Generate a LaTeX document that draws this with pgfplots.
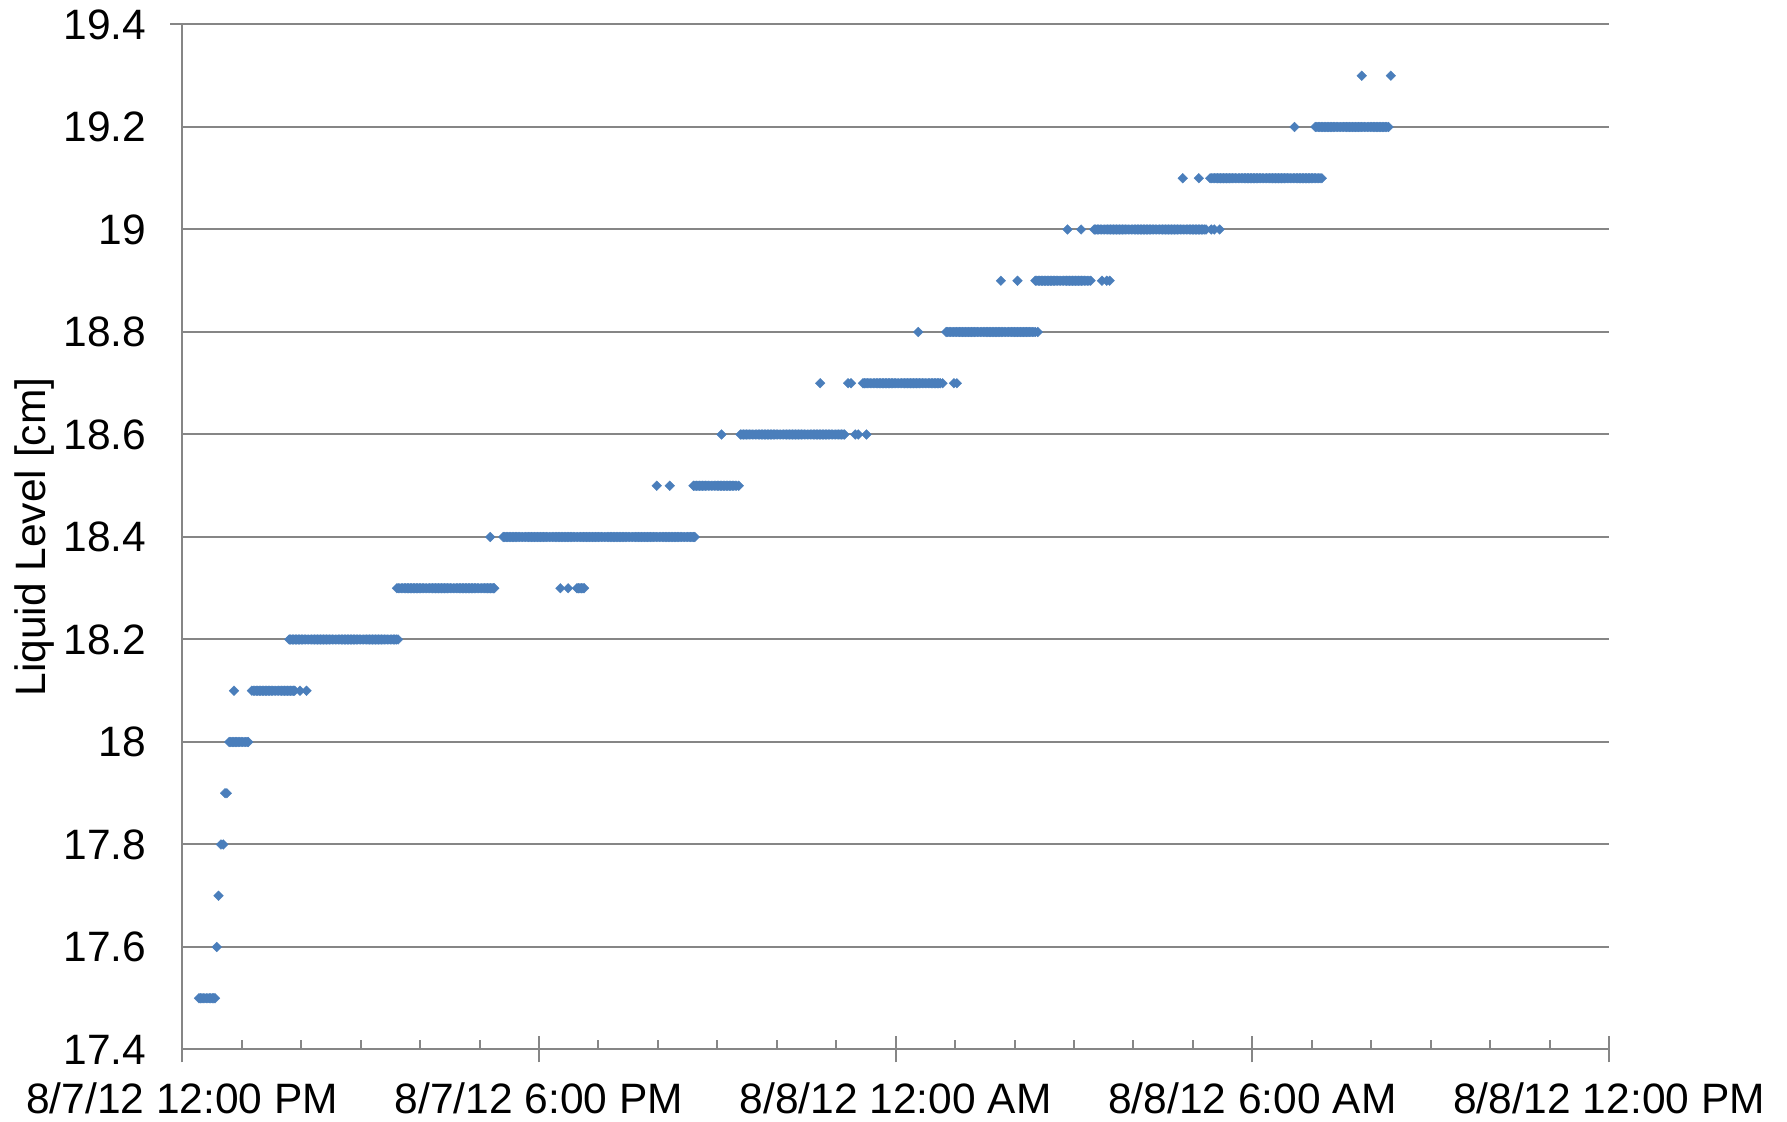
\documentclass[border=0pt]{standalone}
\usepackage{pgfplots}
\pgfplotsset{compat=1.18}
\usepackage{fontspec}
\setmainfont{Liberation Sans}

\definecolor{gridgray}{RGB}{134,134,134}
\definecolor{levelblue}{RGB}{74,126,187}

\begin{document}
\begin{tikzpicture}
\begin{axis}[
  scale only axis,
  width=713.35pt, height=512.5pt,
  xmin=0, xmax=24,
  ymin=17.4, ymax=19.4,
  axis x line*=bottom,
  axis y line*=left,
  axis line style={gridgray, line width=1pt},
  xtick={0,6,12,18,24},
  xticklabels={8/7/12 12:00 PM, 8/7/12 6:00 PM, 8/8/12 12:00 AM, 8/8/12 6:00 AM, 8/8/12 12:00 PM},
  minor x tick num=5,
  ytick={17.4,17.6,17.8,18,18.2,18.4,18.6,18.8,19,19.2,19.4},
  tick align=center,
  major tick length=13pt,
  minor tick length=4.5pt,
  major x tick style={gridgray, line width=1pt},
  minor x tick style={gridgray, line width=1pt, yshift=2.25pt},
  major y tick style={draw=none},
  ymajorgrids,
  major y grid style={gridgray, line width=1pt, shorten <=-6pt},
  /pgf/number format/assume math mode=true,
  tick label style={font=\fontsize{21.25}{25}\selectfont, text=black},
  yticklabel style={anchor=east, xshift=-8pt},
  xticklabel style={anchor=north, yshift=-6.5pt},
  every axis y label/.style={at={(axis description cs:-0.1037,0.5)}, rotate=90, anchor=center},
  ylabel={Liquid Level [cm]},
  label style={font=\fontsize{21.25}{25}\selectfont},
]
% logged level readings: hours after 8/7/12 12:00 PM vs level in cm
\addplot[only marks, mark=square*, mark size=1.7pt,
  mark options={rotate=45, fill=levelblue, draw=levelblue, line width=0.2pt}]
coordinates {
(0.28,17.5) (0.305,17.5) (0.33,17.5) (0.355,17.5) (0.38,17.5) (0.405,17.5) (0.43,17.5) (0.455,17.5)
(0.48,17.5) (0.505,17.5) (0.53,17.5) (0.55,17.5)
(0.58,17.6) (0.61,17.7) (0.65,17.8) (0.69,17.8) (0.72,17.9) (0.75,17.9)
(0.79,18.0) (0.815,18.0) (0.84,18.0) (0.865,18.0) (0.89,18.0) (0.915,18.0) (0.94,18.0) (0.965,18.0)
(0.99,18.0) (1.015,18.0) (1.04,18.0) (1.065,18.0) (1.09,18.0) (1.11,18.0)
(0.87,18.1) (1.17,18.1) (1.195,18.1) (1.22,18.1) (1.245,18.1) (1.27,18.1) (1.295,18.1) (1.32,18.1)
(1.345,18.1) (1.37,18.1) (1.395,18.1) (1.42,18.1) (1.445,18.1) (1.47,18.1) (1.495,18.1) (1.52,18.1)
(1.545,18.1) (1.57,18.1) (1.595,18.1) (1.62,18.1) (1.645,18.1) (1.67,18.1) (1.695,18.1) (1.72,18.1)
(1.745,18.1) (1.77,18.1) (1.795,18.1) (1.82,18.1) (1.845,18.1) (1.87,18.1) (1.89,18.1) (1.98,18.1)
(2.09,18.1)
(1.8,18.2) (1.825,18.2) (1.85,18.2) (1.875,18.2) (1.9,18.2) (1.925,18.2) (1.95,18.2) (1.975,18.2)
(2,18.2) (2.025,18.2) (2.05,18.2) (2.075,18.2) (2.1,18.2) (2.125,18.2) (2.15,18.2) (2.175,18.2)
(2.2,18.2) (2.225,18.2) (2.25,18.2) (2.275,18.2) (2.3,18.2) (2.325,18.2) (2.35,18.2) (2.375,18.2)
(2.4,18.2) (2.425,18.2) (2.45,18.2) (2.475,18.2) (2.5,18.2) (2.525,18.2) (2.55,18.2) (2.575,18.2)
(2.6,18.2) (2.625,18.2) (2.65,18.2) (2.675,18.2) (2.7,18.2) (2.725,18.2) (2.75,18.2) (2.775,18.2)
(2.8,18.2) (2.825,18.2) (2.85,18.2) (2.875,18.2) (2.9,18.2) (2.925,18.2) (2.95,18.2) (2.975,18.2)
(3,18.2) (3.025,18.2) (3.05,18.2) (3.075,18.2) (3.1,18.2) (3.125,18.2) (3.15,18.2) (3.175,18.2)
(3.2,18.2) (3.225,18.2) (3.25,18.2) (3.275,18.2) (3.3,18.2) (3.325,18.2) (3.35,18.2) (3.375,18.2)
(3.4,18.2) (3.425,18.2) (3.45,18.2) (3.475,18.2) (3.5,18.2) (3.525,18.2) (3.55,18.2) (3.575,18.2)
(3.6,18.2) (3.63,18.2)
(3.61,18.3) (3.635,18.3) (3.66,18.3) (3.685,18.3) (3.71,18.3) (3.735,18.3) (3.76,18.3) (3.785,18.3)
(3.81,18.3) (3.835,18.3) (3.86,18.3) (3.885,18.3) (3.91,18.3) (3.935,18.3) (3.96,18.3) (3.985,18.3)
(4.01,18.3) (4.035,18.3) (4.06,18.3) (4.085,18.3) (4.11,18.3) (4.135,18.3) (4.16,18.3) (4.185,18.3)
(4.21,18.3) (4.235,18.3) (4.26,18.3) (4.285,18.3) (4.31,18.3) (4.335,18.3) (4.36,18.3) (4.385,18.3)
(4.41,18.3) (4.435,18.3) (4.46,18.3) (4.485,18.3) (4.51,18.3) (4.535,18.3) (4.56,18.3) (4.585,18.3)
(4.61,18.3) (4.635,18.3) (4.66,18.3) (4.685,18.3) (4.71,18.3) (4.735,18.3) (4.76,18.3) (4.785,18.3)
(4.81,18.3) (4.835,18.3) (4.86,18.3) (4.885,18.3) (4.91,18.3) (4.935,18.3) (4.96,18.3) (4.985,18.3)
(5.01,18.3) (5.035,18.3) (5.06,18.3) (5.085,18.3) (5.11,18.3) (5.135,18.3) (5.16,18.3) (5.185,18.3)
(5.21,18.3) (5.235,18.3) (5.25,18.3)
(6.36,18.3) (6.49,18.3) (6.64,18.3) (6.665,18.3) (6.69,18.3) (6.715,18.3) (6.74,18.3) (6.76,18.3)
(5.18,18.4)
(5.4,18.4) (5.425,18.4) (5.45,18.4) (5.475,18.4) (5.5,18.4) (5.525,18.4) (5.55,18.4) (5.575,18.4)
(5.6,18.4) (5.625,18.4) (5.65,18.4) (5.675,18.4) (5.7,18.4) (5.725,18.4) (5.75,18.4) (5.775,18.4)
(5.8,18.4) (5.825,18.4) (5.85,18.4) (5.875,18.4) (5.9,18.4) (5.925,18.4) (5.95,18.4) (5.975,18.4)
(6,18.4) (6.025,18.4) (6.05,18.4) (6.075,18.4) (6.1,18.4) (6.125,18.4) (6.15,18.4) (6.175,18.4)
(6.2,18.4) (6.225,18.4) (6.25,18.4) (6.275,18.4) (6.3,18.4) (6.325,18.4) (6.35,18.4) (6.375,18.4)
(6.4,18.4) (6.425,18.4) (6.45,18.4) (6.475,18.4) (6.5,18.4) (6.525,18.4) (6.55,18.4) (6.575,18.4)
(6.6,18.4) (6.625,18.4) (6.65,18.4) (6.675,18.4) (6.7,18.4) (6.725,18.4) (6.75,18.4) (6.775,18.4)
(6.8,18.4) (6.825,18.4) (6.85,18.4) (6.875,18.4) (6.9,18.4) (6.925,18.4) (6.95,18.4) (6.975,18.4)
(7,18.4) (7.025,18.4) (7.05,18.4) (7.075,18.4) (7.1,18.4) (7.125,18.4) (7.15,18.4) (7.175,18.4)
(7.2,18.4) (7.225,18.4) (7.25,18.4) (7.275,18.4) (7.3,18.4) (7.325,18.4) (7.35,18.4) (7.375,18.4)
(7.4,18.4) (7.425,18.4) (7.45,18.4) (7.475,18.4) (7.5,18.4) (7.525,18.4) (7.55,18.4) (7.575,18.4)
(7.6,18.4) (7.625,18.4) (7.65,18.4) (7.675,18.4) (7.7,18.4) (7.725,18.4) (7.75,18.4) (7.775,18.4)
(7.8,18.4) (7.825,18.4) (7.85,18.4) (7.875,18.4) (7.9,18.4) (7.925,18.4) (7.95,18.4) (7.975,18.4)
(8,18.4) (8.025,18.4) (8.05,18.4) (8.075,18.4) (8.1,18.4) (8.125,18.4) (8.15,18.4) (8.175,18.4)
(8.2,18.4) (8.225,18.4) (8.25,18.4) (8.275,18.4) (8.3,18.4) (8.325,18.4) (8.35,18.4) (8.375,18.4)
(8.4,18.4) (8.425,18.4) (8.45,18.4) (8.475,18.4) (8.5,18.4) (8.525,18.4) (8.55,18.4) (8.575,18.4)
(8.6,18.4) (8.62,18.4)
(7.98,18.5) (8.2,18.5)
(8.6,18.5) (8.625,18.5) (8.65,18.5) (8.675,18.5) (8.7,18.5) (8.725,18.5) (8.75,18.5) (8.775,18.5)
(8.8,18.5) (8.825,18.5) (8.85,18.5) (8.875,18.5) (8.9,18.5) (8.925,18.5) (8.95,18.5) (8.975,18.5)
(9,18.5) (9.025,18.5) (9.05,18.5) (9.075,18.5) (9.1,18.5) (9.125,18.5) (9.15,18.5) (9.175,18.5)
(9.2,18.5) (9.225,18.5) (9.25,18.5) (9.275,18.5) (9.3,18.5) (9.325,18.5) (9.36,18.5)
(9.07,18.6)
(9.39,18.6) (9.415,18.6) (9.44,18.6) (9.465,18.6) (9.49,18.6) (9.515,18.6) (9.54,18.6) (9.565,18.6)
(9.59,18.6) (9.615,18.6) (9.64,18.6) (9.665,18.6) (9.69,18.6) (9.715,18.6) (9.74,18.6) (9.765,18.6)
(9.79,18.6) (9.815,18.6) (9.84,18.6) (9.865,18.6) (9.89,18.6) (9.915,18.6) (9.94,18.6) (9.965,18.6)
(9.99,18.6) (10.015,18.6) (10.04,18.6) (10.065,18.6) (10.09,18.6) (10.115,18.6) (10.14,18.6) (10.165,18.6)
(10.19,18.6) (10.215,18.6) (10.24,18.6) (10.265,18.6) (10.29,18.6) (10.315,18.6) (10.34,18.6) (10.365,18.6)
(10.39,18.6) (10.415,18.6) (10.44,18.6) (10.465,18.6) (10.49,18.6) (10.515,18.6) (10.54,18.6) (10.565,18.6)
(10.59,18.6) (10.615,18.6) (10.64,18.6) (10.665,18.6) (10.69,18.6) (10.715,18.6) (10.74,18.6) (10.765,18.6)
(10.79,18.6) (10.815,18.6) (10.84,18.6) (10.865,18.6) (10.89,18.6) (10.915,18.6) (10.94,18.6) (10.965,18.6)
(10.99,18.6) (11.015,18.6) (11.04,18.6) (11.065,18.6) (11.09,18.6) (11.115,18.6) (11.14,18.6)
(11.32,18.6) (11.37,18.6) (11.51,18.6)
(10.73,18.7) (11.2,18.7) (11.25,18.7)
(11.45,18.7) (11.475,18.7) (11.5,18.7) (11.525,18.7) (11.55,18.7) (11.575,18.7) (11.6,18.7) (11.625,18.7)
(11.65,18.7) (11.675,18.7) (11.7,18.7) (11.725,18.7) (11.75,18.7) (11.775,18.7) (11.8,18.7) (11.825,18.7)
(11.85,18.7) (11.875,18.7) (11.9,18.7) (11.925,18.7) (11.95,18.7) (11.975,18.7) (12,18.7) (12.025,18.7)
(12.05,18.7) (12.075,18.7) (12.1,18.7) (12.125,18.7) (12.15,18.7) (12.175,18.7) (12.2,18.7) (12.225,18.7)
(12.25,18.7) (12.275,18.7) (12.3,18.7) (12.325,18.7) (12.35,18.7) (12.375,18.7) (12.4,18.7) (12.425,18.7)
(12.45,18.7) (12.475,18.7) (12.5,18.7) (12.525,18.7) (12.55,18.7) (12.575,18.7) (12.6,18.7) (12.625,18.7)
(12.65,18.7) (12.675,18.7) (12.7,18.7) (12.725,18.7) (12.75,18.7) (12.79,18.7)
(12.98,18.7) (13.03,18.7)
(12.38,18.8)
(12.85,18.8) (12.875,18.8) (12.9,18.8) (12.925,18.8) (12.95,18.8) (12.975,18.8) (13,18.8) (13.025,18.8)
(13.05,18.8) (13.075,18.8) (13.1,18.8) (13.125,18.8) (13.15,18.8) (13.175,18.8) (13.2,18.8) (13.225,18.8)
(13.25,18.8) (13.275,18.8) (13.3,18.8) (13.325,18.8) (13.35,18.8) (13.375,18.8) (13.4,18.8) (13.425,18.8)
(13.45,18.8) (13.475,18.8) (13.5,18.8) (13.525,18.8) (13.55,18.8) (13.575,18.8) (13.6,18.8) (13.625,18.8)
(13.65,18.8) (13.675,18.8) (13.7,18.8) (13.725,18.8) (13.75,18.8) (13.775,18.8) (13.8,18.8) (13.825,18.8)
(13.85,18.8) (13.875,18.8) (13.9,18.8) (13.925,18.8) (13.95,18.8) (13.975,18.8) (14,18.8) (14.025,18.8)
(14.05,18.8) (14.075,18.8) (14.1,18.8) (14.125,18.8) (14.15,18.8) (14.175,18.8) (14.2,18.8) (14.225,18.8)
(14.25,18.8) (14.275,18.8) (14.3,18.8) (14.325,18.8) (14.35,18.8) (14.39,18.8)
(13.77,18.9) (14.05,18.9)
(14.35,18.9) (14.375,18.9) (14.4,18.9) (14.425,18.9) (14.45,18.9) (14.475,18.9) (14.5,18.9) (14.525,18.9)
(14.55,18.9) (14.575,18.9) (14.6,18.9) (14.625,18.9) (14.65,18.9) (14.675,18.9) (14.7,18.9) (14.725,18.9)
(14.75,18.9) (14.775,18.9) (14.8,18.9) (14.825,18.9) (14.85,18.9) (14.875,18.9) (14.9,18.9) (14.925,18.9)
(14.95,18.9) (14.975,18.9) (15,18.9) (15.025,18.9) (15.05,18.9) (15.075,18.9) (15.1,18.9) (15.125,18.9)
(15.15,18.9) (15.175,18.9) (15.2,18.9) (15.225,18.9) (15.25,18.9) (15.28,18.9)
(15.47,18.9) (15.55,18.9) (15.6,18.9)
(14.89,19.0) (15.12,19.0)
(15.34,19.0) (15.365,19.0) (15.39,19.0) (15.415,19.0) (15.44,19.0) (15.465,19.0) (15.49,19.0) (15.515,19.0)
(15.54,19.0) (15.565,19.0) (15.59,19.0) (15.615,19.0) (15.64,19.0) (15.665,19.0) (15.69,19.0) (15.715,19.0)
(15.74,19.0) (15.765,19.0) (15.79,19.0) (15.815,19.0) (15.84,19.0) (15.865,19.0) (15.89,19.0) (15.915,19.0)
(15.94,19.0) (15.965,19.0) (15.99,19.0) (16.015,19.0) (16.04,19.0) (16.065,19.0) (16.09,19.0) (16.115,19.0)
(16.14,19.0) (16.165,19.0) (16.19,19.0) (16.215,19.0) (16.24,19.0) (16.265,19.0) (16.29,19.0) (16.315,19.0)
(16.34,19.0) (16.365,19.0) (16.39,19.0) (16.415,19.0) (16.44,19.0) (16.465,19.0) (16.49,19.0) (16.515,19.0)
(16.54,19.0) (16.565,19.0) (16.59,19.0) (16.615,19.0) (16.64,19.0) (16.665,19.0) (16.69,19.0) (16.715,19.0)
(16.74,19.0) (16.765,19.0) (16.79,19.0) (16.815,19.0) (16.84,19.0) (16.865,19.0) (16.89,19.0) (16.915,19.0)
(16.94,19.0) (16.965,19.0) (16.99,19.0) (17.015,19.0) (17.04,19.0) (17.065,19.0) (17.09,19.0) (17.115,19.0)
(17.14,19.0) (17.165,19.0) (17.19,19.0) (17.22,19.0)
(17.31,19.0) (17.36,19.0) (17.45,19.0)
(16.83,19.1) (17.1,19.1)
(17.29,19.1) (17.315,19.1) (17.34,19.1) (17.365,19.1) (17.39,19.1) (17.415,19.1) (17.44,19.1) (17.465,19.1)
(17.49,19.1) (17.515,19.1) (17.54,19.1) (17.565,19.1) (17.59,19.1) (17.615,19.1) (17.64,19.1) (17.665,19.1)
(17.69,19.1) (17.715,19.1) (17.74,19.1) (17.765,19.1) (17.79,19.1) (17.815,19.1) (17.84,19.1) (17.865,19.1)
(17.89,19.1) (17.915,19.1) (17.94,19.1) (17.965,19.1) (17.99,19.1) (18.015,19.1) (18.04,19.1) (18.065,19.1)
(18.09,19.1) (18.115,19.1) (18.14,19.1) (18.165,19.1) (18.19,19.1) (18.215,19.1) (18.24,19.1) (18.265,19.1)
(18.29,19.1) (18.315,19.1) (18.34,19.1) (18.365,19.1) (18.39,19.1) (18.415,19.1) (18.44,19.1) (18.465,19.1)
(18.49,19.1) (18.515,19.1) (18.54,19.1) (18.565,19.1) (18.59,19.1) (18.615,19.1) (18.64,19.1) (18.665,19.1)
(18.69,19.1) (18.715,19.1) (18.74,19.1) (18.765,19.1) (18.79,19.1) (18.815,19.1) (18.84,19.1) (18.865,19.1)
(18.89,19.1) (18.915,19.1) (18.94,19.1) (18.965,19.1) (18.99,19.1) (19.015,19.1) (19.04,19.1) (19.065,19.1)
(19.09,19.1) (19.115,19.1) (19.14,19.1) (19.17,19.1)
(18.71,19.2)
(19.06,19.2) (19.085,19.2) (19.11,19.2) (19.135,19.2) (19.16,19.2) (19.185,19.2) (19.21,19.2) (19.235,19.2)
(19.26,19.2) (19.285,19.2) (19.31,19.2) (19.335,19.2) (19.36,19.2) (19.385,19.2) (19.41,19.2) (19.435,19.2)
(19.46,19.2) (19.485,19.2) (19.51,19.2) (19.535,19.2) (19.56,19.2) (19.585,19.2) (19.61,19.2) (19.635,19.2)
(19.66,19.2) (19.685,19.2) (19.71,19.2) (19.735,19.2) (19.76,19.2) (19.785,19.2) (19.81,19.2) (19.835,19.2)
(19.86,19.2) (19.885,19.2) (19.91,19.2) (19.935,19.2) (19.96,19.2) (19.985,19.2) (20.01,19.2) (20.035,19.2)
(20.06,19.2) (20.085,19.2) (20.11,19.2) (20.135,19.2) (20.16,19.2) (20.185,19.2) (20.21,19.2) (20.235,19.2)
(20.26,19.2) (20.29,19.2)
(19.84,19.3) (20.33,19.3)
};
\end{axis}
% page margins around the plot area
\path (current axis.south west) ++(-91.15pt,-36.25pt) coordinate (pagebl);
\path (current axis.north east) ++(89pt,12.25pt) coordinate (pagetr);
\pgfresetboundingbox
\path (pagebl) rectangle (pagetr);
\end{tikzpicture}
\end{document}
